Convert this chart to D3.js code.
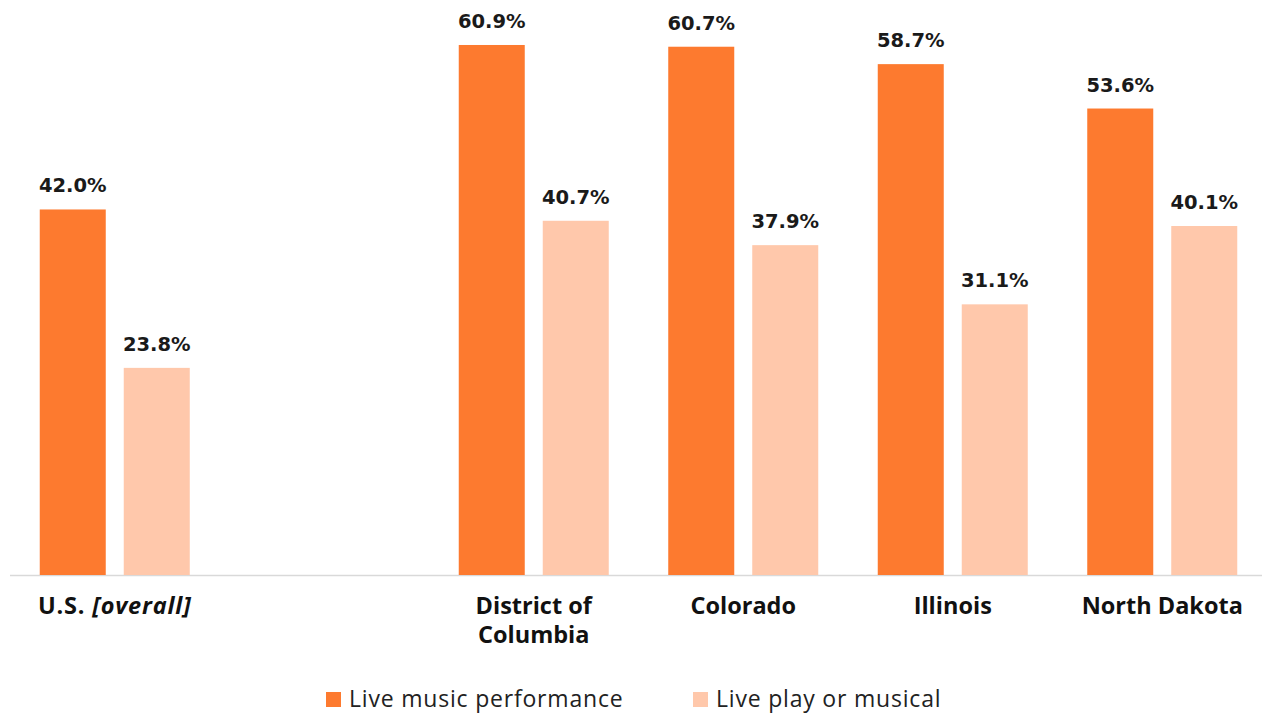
<!DOCTYPE html>
<html><head><meta charset="utf-8">
<script src="https://cdn.jsdelivr.net/npm/d3@7"></script>
<style>body{margin:0;background:#fff}svg{display:block}</style>
</head><body>
<svg id="c" width="1262" height="715"></svg>
<script>
const categories = ["U.S. [overall]", "", "District of Columbia", "Colorado", "Illinois", "North Dakota"];
const liveMusic = [42.0, null, 60.9, 60.7, 58.7, 53.6];
const livePlay = [23.8, null, 40.7, 37.9, 31.1, 40.1];
const seriesNames = ["Live music performance", "Live play or musical"];
const seriesColors = ["#FD7A2F", "#FFC8AB"];

const svg = d3.select("#c");
const x = d3.scaleBand().domain(d3.range(categories.length)).range([10, 1267]).padding(0);
const inner = d3.scaleBand().domain([0, 1]).range([-75, 75]).paddingInner(18/84).paddingOuter(0);
const y = d3.scaleLinear().domain([0, 65]).range([575, 575 - 65 * 8.703]);

svg.append("line").attr("x1", 10).attr("x2", 1262).attr("y1", y(0) + 0.5).attr("y2", y(0) + 0.5)
  .attr("stroke", "#d9d9d9").attr("stroke-width", 1.5);

const series = [liveMusic, livePlay];
series.forEach((vals, si) => {
  vals.forEach((v, i) => {
    if (v == null) return;
    const cx = x(i) + x.bandwidth() / 2;
    const bx = cx + inner(si);
    svg.append("rect").attr("x", bx).attr("y", y(v)).attr("width", inner.bandwidth())
      .attr("height", y(0) - y(v)).attr("fill", seriesColors[si]);
    svg.append("text").attr("x", bx + inner.bandwidth() / 2).attr("y", y(v) - 17)
      .attr("text-anchor", "middle").attr("font-family", "DejaVu Sans").attr("font-weight", "bold")
      .attr("font-size", 19.5).attr("fill", "#1a1a1a").text(v.toFixed(1) + "%");
  });
});

categories.forEach((c, i) => {
  if (!c) return;
  const cx = x(i) + x.bandwidth() / 2;
  const t = svg.append("text").attr("x", cx).attr("y", 614).attr("text-anchor", "middle")
    .attr("font-family", "Open Sans").attr("font-weight", "bold").attr("font-size", 23.5).attr("fill", "#111");
  if (c === "U.S. [overall]") {
    t.attr("letter-spacing", 0.8);
    t.append("tspan").text("U.S. ");
    t.append("tspan").attr("font-style", "italic").text("[overall]");
  } else if (c === "District of Columbia") {
    t.append("tspan").attr("x", cx).text("District of");
    t.append("tspan").attr("x", cx).attr("dy", 29).text("Columbia");
  } else {
    t.text(c);
  }
});

const legX = [326, 693];
seriesNames.forEach((n, i) => {
  svg.append("rect").attr("x", legX[i]).attr("y", 692).attr("width", 15).attr("height", 15).attr("fill", seriesColors[i]);
  svg.append("text").attr("x", legX[i] + 23).attr("y", 707).attr("font-family", "Open Sans")
    .attr("font-size", 23).attr("letter-spacing", 0.8).attr("fill", "#222").text(n);
});
</script>
</body></html>
